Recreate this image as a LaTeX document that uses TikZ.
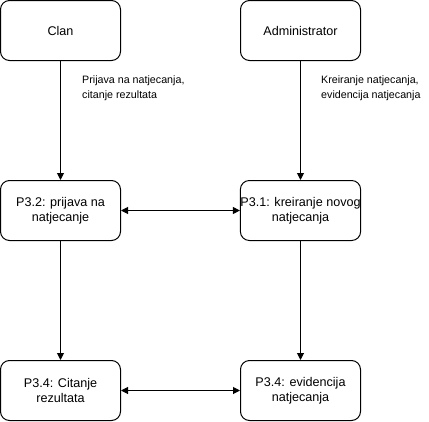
\documentclass[tikz,border=0pt]{standalone}
\usepackage{fontspec}
\setmainfont{Liberation Sans}
\usepackage{tikz}
\usetikzlibrary{arrows.meta,positioning}
\tikzset{
  procbox/.style={draw, line width=1pt, rounded corners=9pt, minimum width=120pt,
    minimum height=60pt, align=center, inner sep=0pt,
    font=\fontsize{12.6}{14.6}\selectfont},
  flowlabel/.style={anchor=north west, align=left, inner sep=0pt,
    font=\fontsize{10.7}{15}\selectfont},
  flow/.style={line width=1pt, -{Triangle[length=7pt,width=7pt]}},
  biflow/.style={line width=1pt, {Triangle[length=7pt,width=7pt]}-{Triangle[length=7pt,width=7pt]}}
}
\begin{document}
\begin{tikzpicture}[x=1pt,y=1pt]
\useasboundingbox (0,0) rectangle (429,-421);
% actors
\node[procbox] (clan) at (60.5,-30.5) {Clan};
\node[procbox] (admin) at (300.5,-30.5) {Administrator};
% processes
\node[procbox] (prijava) at (60.5,-210.5) {P3.2: prijava na\\natjecanje};
\node[procbox] (kreiranje) at (300.5,-210.5) {P3.1: kreiranje novog\\natjecanja};
\node[procbox] (citanje) at (60.5,-390.5) {P3.4: Citanje\\rezultata};
\node[procbox] (evidencija) at (300.5,-390.5) {P3.4: evidencija\\natjecanja};
% data flows
\draw[flow] (clan) -- (prijava);
\draw[flow] (admin) -- (kreiranje);
\draw[flow] (prijava) -- (citanje);
\draw[flow] (kreiranje) -- (evidencija);
\draw[biflow] (prijava) -- (kreiranje);
\draw[biflow] (citanje) -- (evidencija);
\node[flowlabel] (lclan) at (82,-76) {Prijava na natjecanja,\\citanje rezultata};
\node[flowlabel] (ladmin) at (321,-76) {Kreiranje natjecanja,\\evidencija natjecanja};
\end{tikzpicture}
\end{document}
